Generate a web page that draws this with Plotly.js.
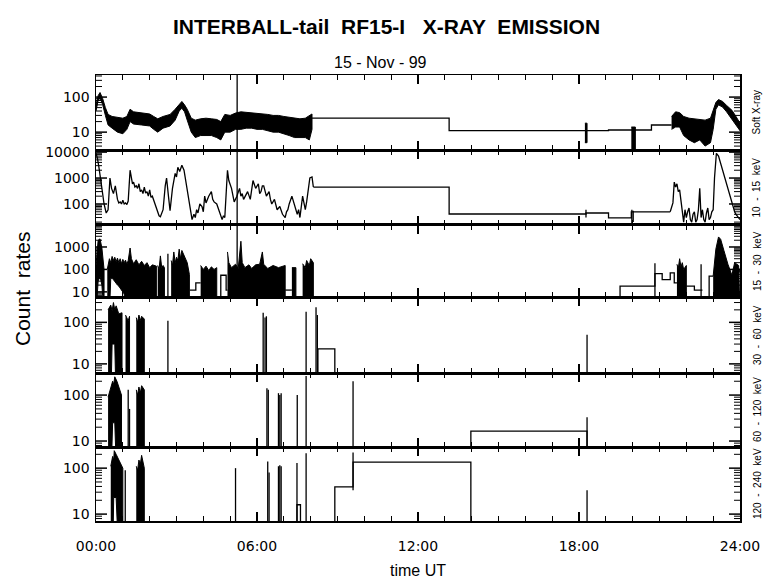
<!DOCTYPE html>
<html><head><meta charset="utf-8">
<script src="https://cdn.plot.ly/plotly-3.0.1.min.js"></script>
<style>html,body{margin:0;padding:0;background:#fff}#chart{width:780px;height:579px}</style>
</head><body><div id="chart"></div>
<script>
// ---------- tick labels ----------
const timeTickVals = [0, 6, 12, 18, 24];
const timeTickText = ["00:00", "06:00", "12:00", "18:00", "24:00"];
const channelLabels = ["Soft X-ray", "10  -  15  keV", "15  -  30  keV", "30  -  60  keV", "60  -  120  keV", "120  -  240  keV"];
const yTickVals = [[10, 100], [100, 1000, 10000], [10, 100, 1000], [10, 100], [10, 100], [10, 100]];
const yTickText = [["10", "100"], ["100", "1000", "10000"], ["10", "100", "1000"], ["10", "100"], ["10", "100"], ["10", "100"]];

// ---------- Panel 1: Soft X-ray ----------
const p1BandT  = [0,0.08,0.15,0.25,0.35,0.45,0.6,0.8,1.0,1.15,1.27,1.4,1.7,2.0,2.15,2.3,2.5,2.76,2.95,3.1,3.2,3.3,3.4,3.55,3.7,3.9,4.1,4.3,4.5,4.65,4.8,5.0,5.2,5.4,5.6,5.8,6.0,6.2,6.4,6.6,6.8,7.0,7.2,7.4,7.6,7.8,7.95,8.05, null,
                  18.22,18.3, null, 19.95,20.1, null,
                  21.45,21.6,21.75,21.9,22.1,22.3,22.5,22.7,22.9,23.0,23.1,23.2,23.35,23.5,23.7,23.85,24.0];
const p1BandLo = [40,80,95,60,30,16,13,10,9,12,20,17,16,15,12,10,13,15,22,40,48,38,22,10,7,8,8,8,7,6,10,10,12,12,13,13,12,12,11,10,10,9,8,7,7,7,6,12, null,
                  5,5, null, 2,2, null,
                  12,14,14,8,6,5,6,4,5,12,45,60,52,38,25,16,11];
const p1BandHi = [60,110,135,90,50,32,28,26,25,28,45,38,35,33,28,24,28,32,45,62,75,60,45,25,22,24,25,24,23,20,32,30,35,38,37,36,35,33,32,30,30,28,27,25,24,25,30,33, null,
                  18,18, null, 14,14, null,
                  28,38,36,28,25,24,22,22,25,40,70,85,75,58,42,28,18];
const p1StepT = [8.05, 13.16, 19.1, 20.7, 21.45];
const p1StepV = [25, 11, 11.5, 16, 16];
const p1SpikeT = [5.26];
const p1SpikeLo = [1];
const p1SpikeHi = [1000];

// ---------- Panel 2: 10-15 keV ----------
const p2LineT = [0,0.05,0.1,0.15,0.22,0.3,0.38,0.45,0.52,0.58,0.65,0.72,0.8,0.85,0.9,0.95,1.0,1.05,1.1,1.15,1.2,1.27,1.32,1.36,1.4,1.45,1.5,1.55,1.6,1.65,1.7,1.75,1.8,1.85,1.9,1.95,2.0,2.05,2.1,2.2,2.3,2.35,2.4,2.45,2.5,2.58,2.63,2.7,2.76,2.85,2.95,3.0,3.05,3.12,3.2,3.28,3.35,3.42,3.5,3.58,3.65,3.7,3.75,3.8,3.87,3.95,4.0,4.05,4.1,4.15,4.2,4.3,4.35,4.4,4.5,4.6,4.7,4.75,4.8,4.9,4.95,5.05,5.1,5.15,5.25,5.35,5.4,5.45,5.5,5.55,5.65,5.75,5.8,5.85,5.95,6.05,6.1,6.15,6.2,6.25,6.35,6.45,6.5,6.55,6.65,6.7,6.75,6.85,6.9,6.95,7.05,7.1,7.15,7.2,7.3,7.4,7.5,7.55,7.6,7.7,7.8,7.85,7.9,7.97,8.05,8.1, null,
                 21.4,21.5,21.55,21.6,21.65,21.7,21.75,21.8,21.85,21.9,21.95,22.0,22.05,22.1,22.15,22.2,22.25,22.3,22.35,22.4,22.45,22.5,22.55,22.6,22.65,22.7,22.75,22.8,22.85,22.9,22.95,23.0,23.05,23.12,23.2,23.3,23.45,23.6,23.7,23.8,23.85,23.9,23.95,24.0];
const p2LineV = [9000,6000,3000,1500,400,100,45,60,1000,400,250,500,150,110,120,100,140,100,110,95,130,2000,900,600,700,450,500,400,600,300,350,250,450,260,300,200,350,180,200,100,45,35,32,45,60,500,1000,200,55,400,1500,1100,2600,1800,3100,2000,700,190,60,25,40,30,60,45,100,80,50,200,110,150,200,300,150,120,100,50,25,35,30,2000,800,400,250,120,200,400,200,250,150,200,300,150,350,800,400,600,250,300,500,500,200,300,150,100,150,90,60,80,50,40,30,50,60,100,200,80,40,60,30,200,60,120,300,1000,1100,450, null,
                 50,110,700,450,600,300,350,120,40,20,60,30,50,70,25,20,40,50,20,25,60,400,30,60,25,20,45,70,25,30,50,60,1000,9000,7000,3000,800,250,100,50,40,35,28,25];
const p2StepT = [8.1, 13.16, 18.26, 19.1, 19.95, 21.4];
const p2StepV = [450, 41, 45, 29, 50, 50];
const p2SpikeT = [5.26, 18.26, 19.97, 20.02];
const p2SpikeLo = [1, 30, 18, 20];
const p2SpikeHi = [100000, 60, 60, 55];

// ---------- Panel 3: 15-30 keV ----------
const p3BandT  = [0,0.08,0.15,0.22,0.3, null,
                  0.42,0.5,0.55,0.6,0.65,0.7,0.75,0.8,0.85,0.9,0.95,1.0,1.05,1.1,1.15,1.2,1.27,1.32,1.4,1.5,1.6,1.7,1.8,1.9,2.0,2.1,2.25, null,
                  2.3,2.35,2.4,2.45,2.5,2.55, null,
                  2.8,2.85,2.9,2.95,3.0,3.05,3.1,3.15,3.2,3.3,3.4,3.48, null,
                  3.9,4.0,4.1,4.2,4.3,4.4,4.5, null,
                  4.9,4.95,5.05,5.2,5.3,5.4,5.45,5.55,5.7,5.8,5.95,6.1,6.2,6.25,6.4,6.6,6.8,7.0,7.05, null,
                  7.3,7.45, null,
                  7.7,7.8,7.85,7.95,8.0,8.1, null,
                  21.65,21.7,21.75,21.8,21.85,21.9,22.0, null,
                  23.0,23.1,23.2,23.28,23.4,23.55,23.7,23.8,23.95,24.0];
const p3BandLo = [1,30,50,20,1, null,
                  1,1,40,40,35,30,25,20,18,15,12,10,8,1,1,1,1,1,1,1,1,1,1,1,1,1,1, null,
                  1,1,1,1,1,1, null,
                  1,1,1,1,1,1,1,1,1,1,1,1, null,
                  1,1,1,1,1,1,1, null,
                  1,1,1,1,1,1,1,1,1,1,1,1,1,1,1,1,1,1,1, null,
                  1,1, null,
                  1,1,1,1,1,1, null,
                  1,1,1,1,1,1,1, null,
                  1,1,1,1,1,1,1,1,1,1];
const p3BandHi = [150,2000,2300,900,100, null,
                  100,300,200,380,250,350,220,320,200,300,180,280,200,260,170,250,900,300,180,270,160,230,150,200,120,160,140, null,
                  150,100,400,120,150,120, null,
                  250,150,600,200,350,250,800,300,700,400,200,60, null,
                  150,100,140,90,130,100,120, null,
                  600,200,120,170,110,1800,200,120,160,110,160,170,600,170,110,150,120,150,150, null,
                  120,120, null,
                  180,120,250,150,300,200, null,
                  170,110,300,130,200,100,150, null,
                  50,800,2800,2200,700,170,55,200,150,20];
const p3StepT = [3.5,3.72,3.9, null, 4.65,4.65,4.85,4.9, null, 7.05,7.3, null,
                 19.53,19.53,20.83,21.1,21.4,21.55,21.65, null, 22.0,22.3,22.6, null, 22.85,22.85,23.0, null, 23.75,23.75,24.0];
const p3StepV = [12,25,25, null, 1,55,12,12, null, 12,12, null,
                 1,18,65,35,70,25,25, null, 18,12,12, null, 1,50,50, null, 1,100,100];
const p3SpikeT = [2.68, 5.26, 20.83, 22.55];
const p3SpikeLo = [1, 1, 1, 1];
const p3SpikeHi = [500, 9000, 190, 170];

// ---------- Panel 4: 30-60 keV ----------
const p4BandT  = [0.45,0.55,0.6,0.65,0.7,0.75,0.85,0.97, null, 1.1,1.2,1.25, null, 1.5,1.55,1.6,1.65,1.7,1.8];
const p4BandLo = [1,1,30,30,30,1,1,1, null, 1,1,1, null, 1,1,1,1,1,1];
const p4BandHi = [200,260,190,300,200,250,160,170, null, 150,110,140, null, 130,100,150,110,140,120];
const p4StepT = [8.27, 8.27, 8.9];
const p4StepV = [1, 23, 1];
const p4SpikeT = [2.68, 6.23, 6.3, 6.35, 7.83, 8.2, 8.25, 18.3];
const p4SpikeLo = [1, 1, 1, 1, 1, 1, 1, 1];
const p4SpikeHi = [110, 170, 130, 140, 180, 230, 150, 50];

// ---------- Panel 5: 60-120 keV ----------
const p5BandT  = [0.45,0.55,0.62,0.66,0.7,0.78,0.85,0.95, null, 1.5,1.55,1.6,1.65,1.7,1.8];
const p5BandLo = [1,1,25,25,25,1,1,1, null, 1,1,1,1,1,1];
const p5BandHi = [90,150,200,170,250,200,150,100, null, 130,100,150,110,160,130];
const p5StepT = [13.97, 13.97, 18.3];
const p5StepV = [1, 16.5, 1];
const p5SpikeT = [1.2, 1.25, 6.37, 6.42, 6.8, 6.85, 6.9, 7.5, 7.83, 9.58, 18.3];
const p5SpikeLo = [1, 1, 1, 1, 1, 1, 1, 1, 1, 1, 1];
const p5SpikeHi = [130, 50, 140, 130, 110, 100, 110, 100, 260, 200, 33];

// ---------- Panel 6: 120-240 keV ----------
const p6BandT  = [0.55,0.62,0.66,0.68,0.75,0.85,1.0, null, 1.5,1.55,1.6,1.65,1.7,1.8];
const p6BandLo = [1,1,23,23,23,1,1, null, 1,1,1,1,1,1];
const p6BandHi = [110,180,150,240,200,150,100, null, 110,90,150,120,190,100];
const p6StepT = [7.49, 7.49, 7.62, null, 8.9, 8.9, 9.58, 13.97];
const p6StepV = [1, 16, 1, null, 1, 39, 135, 1];
const p6SpikeT = [1.09, 5.2, 6.4, 6.45, 6.8, 6.85, 6.9, 7.49, 7.83, 9.58, 18.3];
const p6SpikeLo = [1, 1, 1, 1, 1, 1, 1, 1, 1, 33, 1];
const p6SpikeHi = [90, 100, 140, 80, 110, 115, 110, 130, 210, 220, 33];

// ---------- helpers ----------
const LW = 1.3;
const xid = k => (k === 1 ? 'x' : 'x' + k);
const yid = k => (k === 1 ? 'y' : 'y' + k);
const xkey = k => (k === 1 ? 'xaxis' : 'xaxis' + k);
const ykey = k => (k === 1 ? 'yaxis' : 'yaxis' + k);

function bandTrace(T, LO, HI, k) {
  const xs = [], ys = []; let seg = [];
  const flush = () => {
    if (!seg.length) return;
    seg.forEach(i => { xs.push(T[i]); ys.push(HI[i]); });
    for (let j = seg.length - 1; j >= 0; j--) { xs.push(T[seg[j]]); ys.push(LO[seg[j]]); }
    xs.push(null); ys.push(null); seg = [];
  };
  T.forEach((t, i) => { if (t === null) flush(); else seg.push(i); });
  flush();
  return {x: xs, y: ys, xaxis: xid(k), yaxis: yid(k), mode: 'lines', fill: 'toself',
          fillcolor: '#000', line: {color: '#000', width: 1}, hoverinfo: 'skip', showlegend: false};
}
function lineTrace(T, V, k, shape) {
  return {x: T, y: V, xaxis: xid(k), yaxis: yid(k), mode: 'lines',
          line: {color: '#000', width: LW, shape: shape || 'linear'}, connectgaps: false,
          hoverinfo: 'skip', showlegend: false};
}
function spikeTrace(T, LO, HI, k) {
  const xs = [], ys = [];
  T.forEach((t, i) => { xs.push(t, t, null); ys.push(LO[i], HI[i], null); });
  return {x: xs, y: ys, xaxis: xid(k), yaxis: yid(k), mode: 'lines',
          line: {color: '#000', width: LW}, hoverinfo: 'skip', showlegend: false};
}

const traces = [
  bandTrace(p1BandT, p1BandLo, p1BandHi, 1), lineTrace(p1StepT, p1StepV, 1, 'hv'), spikeTrace(p1SpikeT, p1SpikeLo, p1SpikeHi, 1),
  lineTrace(p2LineT, p2LineV, 2), lineTrace(p2StepT, p2StepV, 2, 'hv'), spikeTrace(p2SpikeT, p2SpikeLo, p2SpikeHi, 2),
  bandTrace(p3BandT, p3BandLo, p3BandHi, 3), lineTrace(p3StepT, p3StepV, 3, 'hv'), spikeTrace(p3SpikeT, p3SpikeLo, p3SpikeHi, 3),
  bandTrace(p4BandT, p4BandLo, p4BandHi, 4), lineTrace(p4StepT, p4StepV, 4, 'hv'), spikeTrace(p4SpikeT, p4SpikeLo, p4SpikeHi, 4),
  bandTrace(p5BandT, p5BandLo, p5BandHi, 5), lineTrace(p5StepT, p5StepV, 5, 'hv'), spikeTrace(p5SpikeT, p5SpikeLo, p5SpikeHi, 5),
  bandTrace(p6BandT, p6BandLo, p6BandHi, 6), lineTrace(p6StepT, p6StepV, 6, 'hv'), spikeTrace(p6SpikeT, p6SpikeLo, p6SpikeHi, 6)
];

// ---------- layout ----------
const domains = [[0.8318, 1], [0.6637, 0.8318], [0.5022, 0.6637], [0.3318, 0.5022], [0.1659, 0.3318], [0, 0.1659]];
const yRanges = [[0.49, 2.63], [1.19, 4.08], [0.77, 3.98], [0.78, 2.61], [0.87, 2.48], [0.85, 2.46]];
const tickFont = {family: 'DejaVu Sans, sans-serif', size: 14, color: '#000'};
const PLOT_W = 644;
const HOURS_PER_PX = 24 / PLOT_W;

// minor log ticks (2..9 per decade) inside the range
function minorLogTicks(r) {
  const out = [];
  for (let d = Math.floor(r[0]); d <= Math.ceil(r[1]); d++)
    for (let m = 2; m <= 9; m++) {
      const v = m * Math.pow(10, d), lv = Math.log10(v);
      if (lv > r[0] && lv < r[1]) out.push(v);
    }
  return out;
}
// y tick marks drawn as short line segments on both sides of the panel
function yTickMarkTrace(vals, lenPx, width, k) {
  const xs = [], ys = [], d = lenPx * HOURS_PER_PX;
  vals.forEach(v => { xs.push(0, d, null, 24 - d, 24, null); ys.push(v, v, null, v, v, null); });
  return {x: xs, y: ys, xaxis: xid(k), yaxis: yid(k), mode: 'lines',
          line: {color: '#000', width: width}, hoverinfo: 'skip', showlegend: false};
}

const layout = {
  width: 780, height: 579,
  margin: {l: 96, r: 40, t: 75, b: 58},
  paper_bgcolor: '#fff', plot_bgcolor: '#fff',
  showlegend: false,
  font: {family: 'Liberation Sans, Arial, sans-serif', color: '#000'},
  annotations: []
};
for (let k = 1; k <= 6; k++) {
  layout[xkey(k)] = {
    anchor: yid(k), domain: [0, 1], range: [0, 24],
    tickmode: 'array', tickvals: timeTickVals, ticktext: timeTickText,
    showticklabels: k === 6, tickfont: tickFont, ticklabelstandoff: 12,
    ticks: 'inside', ticklen: 9, tickwidth: 1.5, tickcolor: '#000',
    minor: {tickmode: 'linear', tick0: 0, dtick: 1, ticks: 'inside', ticklen: 5, tickwidth: 1, tickcolor: '#000', showgrid: false},
    showline: true, linecolor: '#000', linewidth: 1.5, mirror: 'allticks',
    showgrid: false, zeroline: false, fixedrange: true
  };
  layout[ykey(k)] = {
    anchor: xid(k), domain: domains[k - 1], type: 'log', range: yRanges[k - 1],
    tickmode: 'array', tickvals: yTickVals[k - 1], ticktext: yTickText[k - 1], tickfont: tickFont,
    ticks: 'outside', ticklen: 0, ticklabelstandoff: 2,
    showline: true, linecolor: '#000', linewidth: 1.5, mirror: true,
    showgrid: false, zeroline: false, fixedrange: true
  };
  traces.push(yTickMarkTrace(yTickVals[k - 1], 11, 1.5, k));
  traces.push(yTickMarkTrace(minorLogTicks(yRanges[k - 1]), 6, 1, k));
  layout.annotations.push({
    xref: 'paper', yref: 'paper', x: (757 - 96) / PLOT_W, y: (domains[k - 1][0] + domains[k - 1][1]) / 2,
    text: channelLabels[k - 1], showarrow: false, textangle: -90,
    font: {family: 'Liberation Sans, Arial, sans-serif', size: 10, color: '#000'}, xanchor: 'center', yanchor: 'middle'
  });
}
layout.annotations.push(
  {xref: 'paper', yref: 'paper', x: (386 - 96) / PLOT_W, y: 1 + (75 - 26) / 446, text: '<b>INTERBALL-tail  RF15-I   X-RAY  EMISSION</b>',
   showarrow: false, font: {size: 21, color: '#000'}, xanchor: 'center', yanchor: 'middle'},
  {xref: 'paper', yref: 'paper', x: (380 - 96) / PLOT_W, y: 1 + (75 - 62) / 446, text: '15 - Nov - 99',
   showarrow: false, font: {size: 16, color: '#000'}, xanchor: 'center', yanchor: 'middle'},
  {xref: 'paper', yref: 'paper', x: (22 - 96) / PLOT_W, y: 1 - (289 - 75) / 446, text: 'Count  rates', textangle: -90,
   showarrow: false, font: {size: 21, color: '#000'}, xanchor: 'center', yanchor: 'middle'},
  {xref: 'paper', yref: 'paper', x: (418 - 96) / PLOT_W, y: -(570 - 521) / 446, text: 'time UT',
   showarrow: false, font: {size: 16, color: '#000'}, xanchor: 'center', yanchor: 'middle'}
);

Plotly.newPlot('chart', traces, layout, {staticPlot: true, displayModeBar: false});
</script></body></html>
